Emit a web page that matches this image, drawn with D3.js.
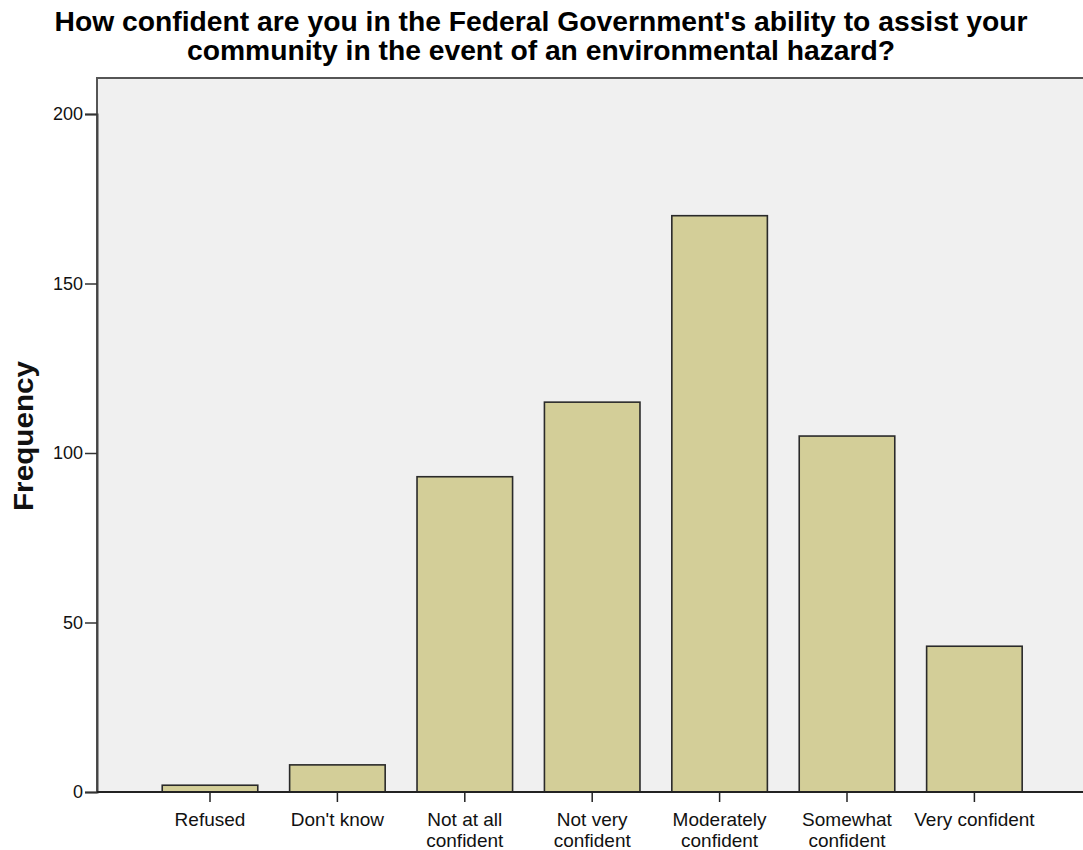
<!DOCTYPE html>
<html>
<head>
<meta charset="utf-8">
<script src="https://cdn.jsdelivr.net/npm/d3@7"></script>
<style>
  html, body { margin: 0; padding: 0; background: #ffffff; }
  svg { display: block; font-family: "Liberation Sans", Arial, sans-serif; }
</style>
</head>
<body>
<svg id="chart" width="1083" height="850"></svg>
<script>
// Survey responses: confidence in federal assistance during environmental hazards
const categories = [
  ["Refused"],
  ["Don't know"],
  ["Not at all", "confident"],
  ["Not very", "confident"],
  ["Moderately", "confident"],
  ["Somewhat", "confident"],
  ["Very confident"]
];
const frequencies = [2, 8, 93, 115, 170, 105, 43];
const yTicks = [0, 50, 100, 150, 200];
const titleLines = [
  "How confident are you in the Federal Government's ability to assist your",
  "community in the event of an environmental hazard?"
];

const svg = d3.select("#chart");
const W = 1083, H = 850;
const plot = { left: 97, top: 78, right: 1090, bottom: 792 };
const FONT = "'Liberation Sans', Arial, sans-serif";

const keys = categories.map(c => c.join(" "));

const x = d3.scaleBand()
  .domain(keys)
  .range([146.3, 1038.1])
  .paddingInner(0.25)
  .paddingOuter(0.125);

const y = d3.scaleLinear()
  .domain([0, 200])
  .range([plot.bottom, 114]);

// Plot background and frame
svg.append("rect")
  .attr("x", plot.left)
  .attr("y", plot.top)
  .attr("width", plot.right - plot.left)
  .attr("height", plot.bottom - plot.top)
  .attr("fill", "#f0f0f0")
  .attr("stroke", "#555555")
  .attr("stroke-width", 2);

// Bars
svg.append("g")
  .selectAll("rect")
  .data(frequencies)
  .join("rect")
  .attr("x", (d, i) => x(keys[i]))
  .attr("y", d => y(d))
  .attr("width", x.bandwidth())
  .attr("height", d => y(0) - y(d))
  .attr("fill", "#d3ce98")
  .attr("stroke", "#2a2a2a")
  .attr("stroke-width", 1.6);

// Y axis
const yAxis = svg.append("g")
  .attr("transform", `translate(${plot.left},0)`)
  .call(d3.axisLeft(y).tickValues(yTicks).tickSize(12).tickPadding(2).tickFormat(d3.format("d")));
yAxis.select(".domain").attr("stroke", "#444").attr("stroke-width", 2);
yAxis.selectAll(".tick line").attr("stroke", "#333").attr("stroke-width", 1.5);
yAxis.selectAll(".tick text")
  .attr("fill", "#111")
  .style("font-size", "18px")
  .style("font-family", FONT);

// X axis
const xAxis = svg.append("g")
  .attr("transform", `translate(0,${plot.bottom})`)
  .call(d3.axisBottom(x).tickSize(10).tickFormat(""));
xAxis.select(".domain").attr("d", `M${plot.left},0H${W}`).attr("stroke", "#222").attr("stroke-width", 2);
xAxis.selectAll(".tick line").attr("stroke", "#222").attr("stroke-width", 1.5);

xAxis.selectAll(".tick")
  .each(function(k, i) {
    const t = d3.select(this).append("text")
      .attr("fill", "#111")
      .attr("text-anchor", "middle")
      .style("font-size", "19px")
      .style("font-family", FONT);
    categories[i].forEach((line, j) => {
      t.append("tspan").attr("x", 0).attr("y", 33.5 + j * 21).text(line);
    });
  });

// Y axis title
svg.append("text")
  .attr("transform", `translate(33,436) rotate(-90)`)
  .attr("text-anchor", "middle")
  .attr("fill", "#111")
  .attr("textLength", 150)
  .attr("lengthAdjust", "spacingAndGlyphs")
  .style("font-size", "28px")
  .style("font-weight", "bold")
  .style("font-family", FONT)
  .text("Frequency");

// Chart title
const titleWidths = [973, 708];
svg.append("g")
  .selectAll("text")
  .data(titleLines)
  .join("text")
  .attr("x", 541)
  .attr("y", (d, i) => 31 + i * 29)
  .attr("text-anchor", "middle")
  .attr("fill", "#000")
  .attr("textLength", (d, i) => titleWidths[i])
  .attr("lengthAdjust", "spacingAndGlyphs")
  .style("font-size", "27px")
  .style("font-weight", "bold")
  .style("font-family", FONT)
  .text(d => d);
</script>
</body>
</html>
